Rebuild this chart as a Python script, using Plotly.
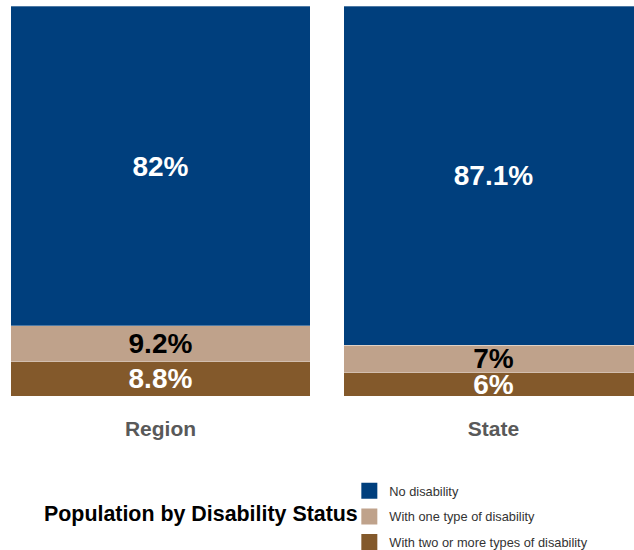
import plotly.graph_objects as go

# Share of population by disability status (percent)
places = ["Region", "State"]
no_disability = [82, 87.1]
one_type = [9.2, 7]
two_or_more = [8.8, 6]

series_names = ["With two or more types of disability", "With one type of disability", "No disability"]
series_values = [two_or_more, one_type, no_disability]
series_colors = ["#83592b", "#bfa28b", "#003f7d"]
label_colors = ["white", "black", "white"]

fig = go.Figure()
for name, vals, col, tcol in zip(series_names, series_values, series_colors, label_colors):
    fig.add_trace(go.Bar(
        x=[0, 1],
        y=vals,
        name=name,
        legendgroup=name,
        showlegend=False,
        marker=dict(color=col, line=dict(color="rgba(255,255,255,0.5)", width=0.6)),
        width=0.9,
        text=[f"{v}%" for v in vals],
        textposition="inside",
        insidetextanchor="middle",
        constraintext="none",
        textangle=0,
        textfont=dict(family="Liberation Sans, Arial", size=28, color=tcol, weight="bold"),
        cliponaxis=True,
        hoverinfo="skip",
    ))

# Legend entries with larger square swatches, top entry first
for name, col in zip(reversed(series_names), reversed(series_colors)):
    fig.add_trace(go.Scatter(
        x=[None],
        y=[None],
        mode="markers",
        name=name,
        legendgroup=name,
        marker=dict(symbol="square", size=16, color=col),
        hoverinfo="skip",
    ))

fig.update_layout(
    width=634,
    height=550,
    barmode="stack",
    paper_bgcolor="white",
    plot_bgcolor="white",
    margin=dict(l=0, r=0, t=6, b=154, autoexpand=False),
    font=dict(family="Liberation Sans, Arial"),
    xaxis=dict(
        range=[-0.482, 1.422],
        tickvals=[0, 1],
        ticktext=places,
        showgrid=False,
        zeroline=False,
        showline=False,
        ticks="",
        ticklabelstandoff=18,
        tickfont=dict(size=21, color="#595959", weight="bold"),
    ),
    yaxis=dict(range=[0, 100.1], visible=False, showgrid=False, zeroline=False),
    showlegend=True,
    legend=dict(
        x=0.551,
        y=-0.205,
        xanchor="left",
        yanchor="top",
        traceorder="grouped",
        tracegroupgap=6,
        itemsizing="trace",
        font=dict(size=12.8, color="#333333"),
        itemwidth=30,
        bgcolor="rgba(0,0,0,0)",
    ),
    annotations=[
        dict(
            text="<b>Population by Disability Status</b>",
            xref="paper",
            yref="paper",
            x=0.317,
            y=-0.303,
            xanchor="center",
            yanchor="middle",
            showarrow=False,
            font=dict(family="Liberation Sans, Arial", size=21.4, color="black"),
        )
    ],
)

fig.write_html("out.html")
